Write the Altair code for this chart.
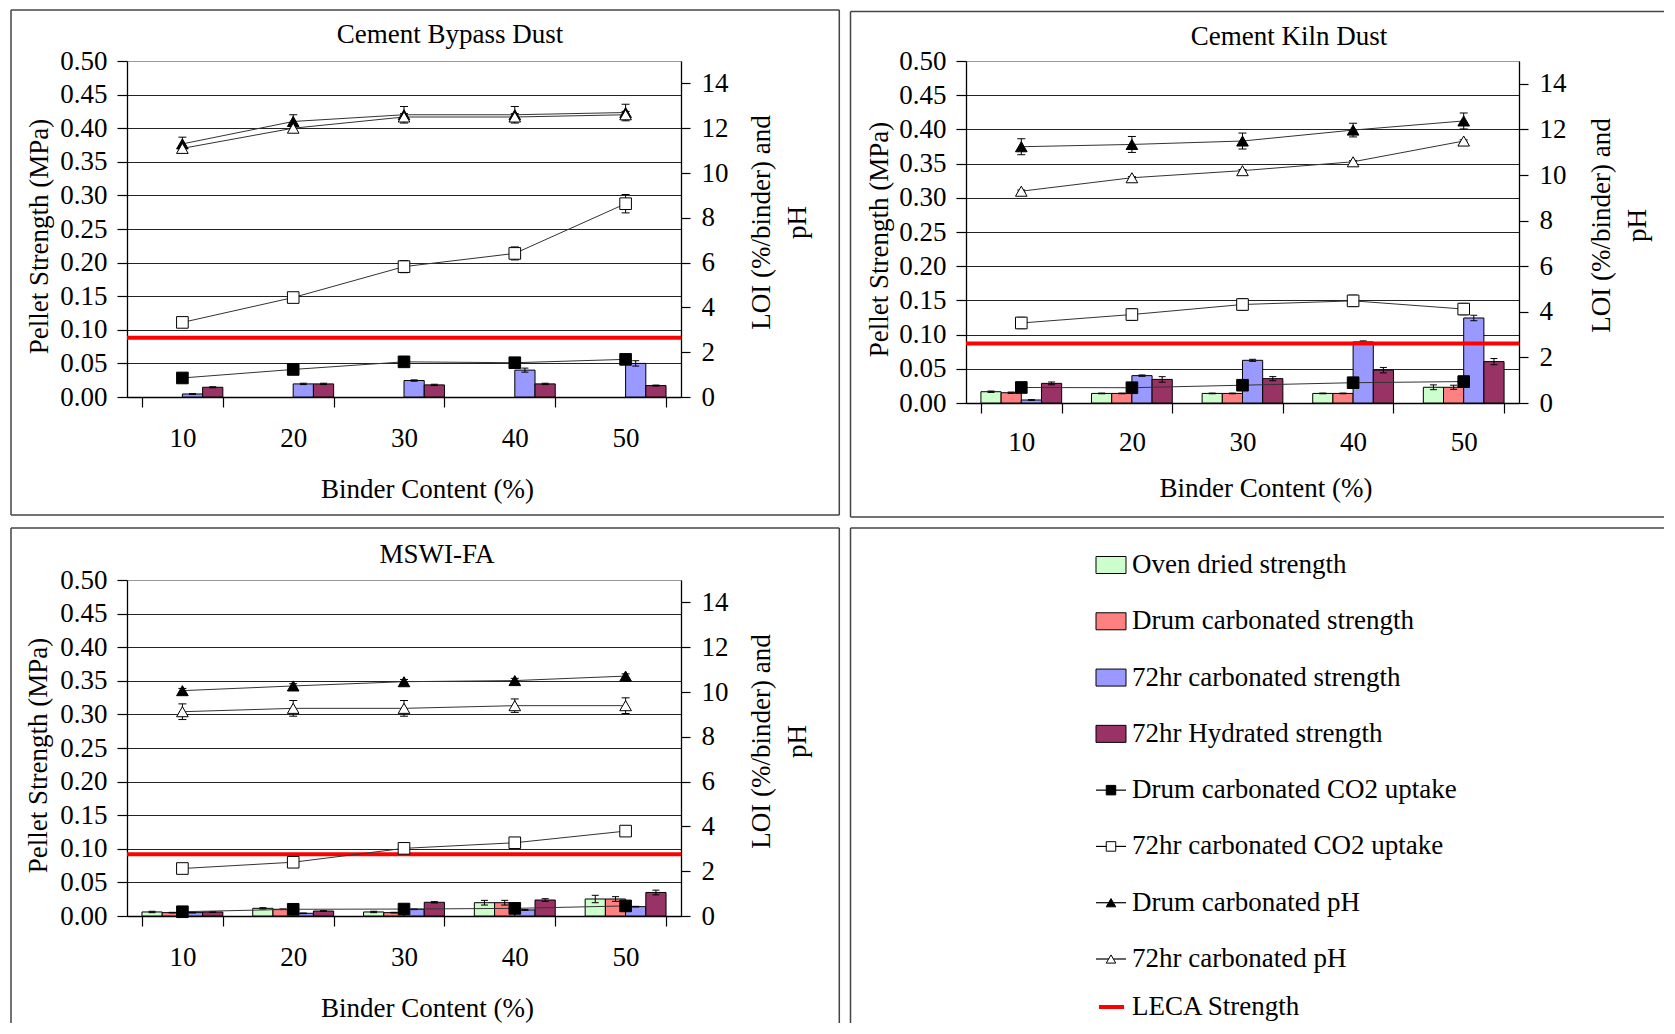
import altair as alt
import pandas as pd

FONT = "Liberation Serif"
FS = 27

binders = ["10", "20", "30", "40", "50"]
bar_series = ["Oven dried strength", "Drum carbonated strength",
              "72hr carbonated strength", "72hr Hydrated strength"]
bar_colors = ["#CCFFCC", "#FF8080", "#9999FF", "#993366"]
line_series = ["Drum carbonated CO2 uptake", "72hr carbonated CO2 uptake",
               "Drum carbonated pH", "72hr carbonated pH"]
line_shapes = ["square", "square", "triangle-up", "triangle-up"]
line_fills = ["black", "white", "black", "white"]
leca_label = "LECA Strength"
legend_labels = bar_series + line_series

strength_ticks = [0.0, 0.05, 0.10, 0.15, 0.20, 0.25, 0.30, 0.35, 0.40, 0.45, 0.50]
loi_ticks = [0, 2, 4, 6, 8, 10, 12, 14]

# ---------------- Cement Bypass Dust ----------------
cbd_carb72 = [0.0045, 0.0195, 0.0245, 0.040, 0.050]
cbd_carb72_err = [0.0005, 0.001, 0.001, 0.003, 0.004]
cbd_hyd72 = [0.0145, 0.0195, 0.018, 0.0195, 0.017]
cbd_hyd72_err = [0.0008, 0.001, 0.001, 0.001, 0.0008]
cbd_drum_co2 = [0.85, 1.23, 1.57, 1.53, 1.68]
cbd_drum_co2_err = [0.05, 0.05, 0.05, 0.05, 0.05]
cbd_co2_72 = [3.33, 4.44, 5.82, 6.41, 8.63]
cbd_co2_72_err = [0.1, 0.1, 0.27, 0.29, 0.41]
cbd_drum_ph = [11.3, 12.3, 12.6, 12.6, 12.7]
cbd_drum_ph_err = [0.3, 0.3, 0.37, 0.37, 0.37]
cbd_ph_72 = [11.1, 12.0, 12.5, 12.5, 12.6]
cbd_ph_72_err = [0.1, 0.1, 0.15, 0.15, 0.15]
cbd_leca = 0.088

# ---------------- Cement Kiln Dust ----------------
ckd_oven = [0.0165, 0.014, 0.014, 0.014, 0.023]
ckd_oven_err = [0.001, 0.0005, 0.0005, 0.0005, 0.0035]
ckd_drum = [0.015, 0.014, 0.014, 0.014, 0.023]
ckd_drum_err = [0.001, 0.0005, 0.0005, 0.0005, 0.003]
ckd_carb72 = [0.0044, 0.040, 0.0624, 0.0893, 0.1243]
ckd_carb72_err = [0.0005, 0.001, 0.0015, 0.0015, 0.004]
ckd_hyd72 = [0.0287, 0.0345, 0.0356, 0.048, 0.0605]
ckd_hyd72_err = [0.002, 0.004, 0.003, 0.004, 0.0045]
ckd_drum_co2 = [0.68, 0.67, 0.78, 0.89, 0.94]
ckd_drum_co2_err = [0.05, 0.05, 0.05, 0.05, 0.05]
ckd_co2_72 = [3.51, 3.88, 4.32, 4.48, 4.12]
ckd_co2_72_err = [0.25, 0.25, 0.25, 0.25, 0.25]
ckd_drum_ph = [11.24, 11.34, 11.49, 11.97, 12.37]
ckd_drum_ph_err = [0.35, 0.35, 0.35, 0.3, 0.35]
ckd_ph_72 = [9.29, 9.88, 10.19, 10.58, 11.49]
ckd_ph_72_err = [0.05, 0.05, 0.05, 0.05, 0.05]
ckd_leca = 0.087

# ---------------- MSWI-FA ----------------
msw_oven = [0.006, 0.0114, 0.006, 0.0198, 0.0253]
msw_oven_err = [0.001, 0.001, 0.001, 0.0035, 0.0055]
msw_drum = [0.005, 0.010, 0.005, 0.0198, 0.0253]
msw_drum_err = [0.0005, 0.0005, 0.0005, 0.0035, 0.0035]
msw_carb72 = [0.005, 0.004, 0.010, 0.009, 0.0139]
msw_carb72_err = [0.0005, 0.0005, 0.0005, 0.0005, 0.0005]
msw_hyd72 = [0.006, 0.0074, 0.0204, 0.0238, 0.035]
msw_hyd72_err = [0.0005, 0.0005, 0.001, 0.002, 0.0035]
msw_drum_co2 = [0.19, 0.30, 0.31, 0.34, 0.45]
msw_drum_co2_err = [0.05, 0.05, 0.05, 0.05, 0.05]
msw_co2_72 = [2.12, 2.40, 3.02, 3.27, 3.79]
msw_co2_72_err = [0.05, 0.05, 0.05, 0.05, 0.05]
msw_drum_ph = [10.06, 10.27, 10.46, 10.51, 10.71]
msw_drum_ph_err = [0.1, 0.1, 0.1, 0.1, 0.1]
msw_ph_72 = [9.12, 9.27, 9.27, 9.39, 9.39]
msw_ph_72_err = [0.35, 0.35, 0.35, 0.3, 0.35]
msw_leca = 0.092

ONE = pd.DataFrame({"k": [0]})
FRAME_COLOR = "#444444"
FRAME_W = 1.5


def hrule(x1, x2, y):
    return alt.Chart(ONE).mark_rule(color=FRAME_COLOR, strokeWidth=FRAME_W).encode(
        x=alt.value(x1), x2=alt.value(x2), y=alt.value(y))


def vrule(x, y1, y2):
    return alt.Chart(ONE).mark_rule(color=FRAME_COLOR, strokeWidth=FRAME_W).encode(
        x=alt.value(x), y=alt.value(y1), y2=alt.value(y2))


bar_color_scale = alt.Scale(domain=bar_series, range=bar_colors)
shape_scale = alt.Scale(domain=line_series, range=line_shapes)
fill_scale = alt.Scale(domain=line_series, range=line_fills)


def make_panel(title, geo, bars, lines, leca, frames):
    w, h = geo["w"], geo["h"]
    brows = []
    for s in bar_series:
        if s in bars:
            vals, errs = bars[s]
            for b, v, e in zip(binders, vals, errs):
                brows.append({"binder": b, "series": s, "value": v, "lo": v - e, "hi": v + e})
    bdf = pd.DataFrame(brows)
    lrows = []
    for s in line_series:
        vals, errs = lines[s]
        for b, v, e in zip(binders, vals, errs):
            lrows.append({"binder": b, "series": s, "val": v, "lo": v - e, "hi": v + e})
    ldf = pd.DataFrame(lrows)

    xscale = alt.Scale(domain=binders, paddingInner=0.27, paddingOuter=0.135)
    x_axis = alt.Axis(title="Binder Content (%)", labelAngle=0, tickBand="extent",
                      tickSize=10, tickWidth=1.2, domainWidth=1.3, labelPadding=geo["lp"],
                      titleX=w / 2 + 23, titleY=geo["xt_y"], titleBaseline="alphabetic",
                      titleAlign="center", grid=False)
    X = alt.X("binder:N", scale=xscale, axis=x_axis)
    xo = alt.XOffset("series:N", scale=alt.Scale(domain=bar_series, paddingInner=0, paddingOuter=0))

    ys = alt.Scale(domain=[0, 0.5], nice=False, zero=True)
    left_axis = alt.Axis(title="Pellet Strength (MPa)", values=strength_ticks, format=".2f",
                         tickSize=10, tickWidth=1.2, domainWidth=1.3, labelPadding=10,
                         titleX=geo["lt_x"], titleY=h / 2 + 7, titleAngle=270,
                         titleBaseline="alphabetic", titleAlign="center",
                         labelOverlap=False, grid=True, gridColor="#222222",
                         gridWidth=1.2,
                         gridOpacity={"condition": {"test": "datum.value >= 0.5", "value": 0},
                                      "value": 1})
    yr = alt.Scale(domain=[0, 15], nice=False, zero=True)
    right_axis = alt.Axis(orient="right", title=["LOI (%/binder) and", "pH"], values=loi_ticks,
                          tickSize=9, tickWidth=1.2, domainWidth=1.3, labelPadding=11,
                          titleX=geo["rt_x"], titleY=h / 2 - 7, titleAngle=270,
                          titleBaseline="alphabetic", titleAlign="center",
                          titleLineHeight=36, labelOverlap=False, grid=False)

    def YL(field):
        return alt.Y(field, type="quantitative", scale=ys, axis=left_axis)

    def YR(field):
        return alt.Y(field, type="quantitative", scale=yr, axis=right_axis)

    bars_l = alt.Chart(bdf).mark_bar(stroke="black", strokeWidth=1).encode(
        x=X, xOffset=xo, y=YL("value"),
        color=alt.Color("series:N", scale=bar_color_scale, legend=None))
    berr = alt.Chart(bdf).mark_rule(color="black", strokeWidth=1).encode(
        x=X, xOffset=xo, y=YL("lo"), y2="hi:Q")
    bcap_lo = alt.Chart(bdf).mark_tick(color="black", size=7, thickness=1, opacity=1).encode(
        x=X, xOffset=xo, y=YL("lo"))
    bcap_hi = alt.Chart(bdf).mark_tick(color="black", size=7, thickness=1, opacity=1).encode(
        x=X, xOffset=xo, y=YL("hi"))
    leca_l = alt.Chart(pd.DataFrame({"value": [leca]})).mark_rule(
        color="#FF0000", strokeWidth=4).encode(y=YL("value"))

    line_l = alt.Chart(ldf).mark_line(color="#333333", strokeWidth=1).encode(
        x=X, y=YR("val"), detail="series:N")
    perr = alt.Chart(ldf).mark_rule(color="black", strokeWidth=1).encode(
        x=X, y=YR("lo"), y2="hi:Q")
    pcap_lo = alt.Chart(ldf).mark_tick(color="black", size=8, thickness=1, opacity=1).encode(
        x=X, y=YR("lo"))
    pcap_hi = alt.Chart(ldf).mark_tick(color="black", size=8, thickness=1, opacity=1).encode(
        x=X, y=YR("hi"))
    pts = alt.Chart(ldf).mark_point(filled=True, size=135, stroke="black", strokeWidth=1,
                                    opacity=1).encode(
        x=X, y=YR("val"),
        shape=alt.Shape("series:N", scale=shape_scale, legend=None),
        fill=alt.Fill("series:N", scale=fill_scale, legend=None))

    title_l = alt.Chart(pd.DataFrame({"t": [title]})).mark_text(
        font=FONT, fontSize=FS, align="center", baseline="alphabetic", color="black").encode(
        text="t:N", x=alt.value(geo["t_x"]), y=alt.value(geo["t_y"]))

    left_group = alt.layer(bars_l, berr, bcap_lo, bcap_hi, leca_l)
    right_group = alt.layer(line_l, perr, pcap_lo, pcap_hi, pts)
    return alt.layer(*frames, title_l, left_group, right_group).resolve_scale(
        y="independent").properties(width=w, height=h)


# panel geometry (plot areas and text placement, in pixels)
TL = {"w": 554, "h": 336, "t_x": 277 + 46, "t_y": -18, "xt_y": 100, "lt_x": -80, "rt_x": 88, "lp": 18}
TR = {"w": 553, "h": 342, "t_x": 276.5 + 46.5, "t_y": -16.5, "xt_y": 93, "lt_x": -79, "rt_x": 90, "lp": 16}
BL = {"w": 554, "h": 336, "t_x": 277 + 33, "t_y": -17, "xt_y": 100, "lt_x": -81, "rt_x": 88, "lp": 18}
LG_W, LG_H = 553, 336
RIGHT_END = 698  # right-column frames run to the page edge

tl = make_panel(
    "Cement Bypass Dust", TL,
    {"72hr carbonated strength": (cbd_carb72, cbd_carb72_err),
     "72hr Hydrated strength": (cbd_hyd72, cbd_hyd72_err)},
    {"Drum carbonated CO2 uptake": (cbd_drum_co2, cbd_drum_co2_err),
     "72hr carbonated CO2 uptake": (cbd_co2_72, cbd_co2_72_err),
     "Drum carbonated pH": (cbd_drum_ph, cbd_drum_ph_err),
     "72hr carbonated pH": (cbd_ph_72, cbd_ph_72_err)},
    cbd_leca,
    [hrule(-116, 712.3, -51), hrule(-116, 712.3, 454),
     vrule(-116, -51, 454), vrule(712.3, -51, 454)])

tr = make_panel(
    "Cement Kiln Dust", TR,
    {"Oven dried strength": (ckd_oven, ckd_oven_err),
     "Drum carbonated strength": (ckd_drum, ckd_drum_err),
     "72hr carbonated strength": (ckd_carb72, ckd_carb72_err),
     "72hr Hydrated strength": (ckd_hyd72, ckd_hyd72_err)},
    {"Drum carbonated CO2 uptake": (ckd_drum_co2, ckd_drum_co2_err),
     "72hr carbonated CO2 uptake": (ckd_co2_72, ckd_co2_72_err),
     "Drum carbonated pH": (ckd_drum_ph, ckd_drum_ph_err),
     "72hr carbonated pH": (ckd_ph_72, ckd_ph_72_err)},
    ckd_leca,
    [hrule(-115.5, RIGHT_END, -49.5), hrule(-115.5, RIGHT_END, 456),
     vrule(-115.5, -49.5, 456)])

bl = make_panel(
    "MSWI-FA", BL,
    {"Oven dried strength": (msw_oven, msw_oven_err),
     "Drum carbonated strength": (msw_drum, msw_drum_err),
     "72hr carbonated strength": (msw_carb72, msw_carb72_err),
     "72hr Hydrated strength": (msw_hyd72, msw_hyd72_err)},
    {"Drum carbonated CO2 uptake": (msw_drum_co2, msw_drum_co2_err),
     "72hr carbonated CO2 uptake": (msw_co2_72, msw_co2_72_err),
     "Drum carbonated pH": (msw_drum_ph, msw_drum_ph_err),
     "72hr carbonated pH": (msw_ph_72, msw_ph_72_err)},
    msw_leca,
    [hrule(-116, 712.3, -52), vrule(-116, -52, 443), vrule(712.3, -52, 443)])

# ---------------- legend panel ----------------
ly = alt.Y("label:N", scale=alt.Scale(type="point", domain=legend_labels, range=[-15, 379],
                                      padding=0), axis=None)
LECA_ROW_Y = 427
leg_all = pd.DataFrame({"label": legend_labels})
leg_bar = pd.DataFrame({"label": bar_series})
leg_line = pd.DataFrame({"label": line_series})
leg_leca = pd.DataFrame({"label": [leca_label]})

sw_bar = alt.Chart(leg_bar).mark_point(
    shape="M-1,-0.567H1V0.567H-1Z", size=900, filled=True, stroke="black",
    strokeWidth=1, opacity=1).encode(
    x=alt.value(145), y=ly,
    color=alt.Color("label:N", scale=bar_color_scale, legend=None))
sw_line = alt.Chart(leg_line).mark_rule(color="black", strokeWidth=1.2).encode(
    x=alt.value(130), x2=alt.value(160), y=ly)
sw_mark = alt.Chart(leg_line).mark_point(filled=True, size=90, stroke="black", strokeWidth=1,
                                         opacity=1).encode(
    x=alt.value(145), y=ly,
    shape=alt.Shape("label:N", scale=shape_scale, legend=None),
    fill=alt.Fill("label:N", scale=fill_scale, legend=None))
leg_text = alt.Chart(leg_all).mark_text(font=FONT, fontSize=FS, align="left", baseline="middle",
                                        color="black").encode(
    x=alt.value(166), y=ly, text="label:N")
sw_leca = alt.Chart(leg_leca).mark_rule(color="#FF0000", strokeWidth=4).encode(
    x=alt.value(133), x2=alt.value(158), y=alt.value(LECA_ROW_Y))
leca_text = alt.Chart(leg_leca).mark_text(font=FONT, fontSize=FS, align="left",
                                          baseline="middle", color="black").encode(
    x=alt.value(166), y=alt.value(LECA_ROW_Y), text="label:N")

legend_panel = alt.layer(
    hrule(-115.5, RIGHT_END, -52), vrule(-115.5, -52, 443),
    sw_bar, sw_line, sw_mark, leg_text, sw_leca, leca_text
).properties(width=LG_W, height=LG_H, view=alt.ViewBackground(stroke="transparent"))

top = alt.hconcat(tl, tr, spacing=8).resolve_scale(xOffset="independent")
bottom = alt.hconcat(bl, legend_panel, spacing=8).resolve_scale(xOffset="independent")

chart = alt.vconcat(top, bottom, spacing=7).resolve_scale(xOffset="independent").properties(
    padding={"left": 1, "top": 0, "right": 0, "bottom": 0}
).configure_view(stroke="#999999", strokeWidth=1).configure_axis(
    labelFont=FONT, titleFont=FONT, labelFontSize=FS, titleFontSize=FS,
    labelColor="black", titleColor="black", titleFontWeight="normal",
    tickColor="black", domainColor="black"
).configure_text(font=FONT)

chart.save("out.html", embed_options={"renderer": "svg", "actions": False})
